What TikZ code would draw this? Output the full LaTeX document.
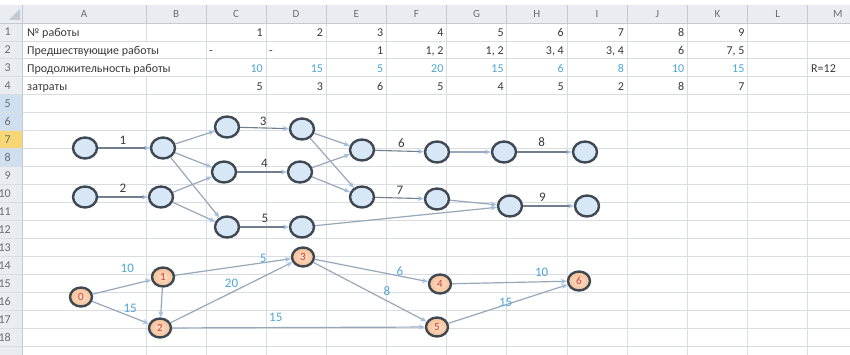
\documentclass[tikz,border=0pt]{standalone}
\usepackage{fontspec}
\setmainfont{Carlito}
\usetikzlibrary{shapes.geometric,arrows.meta}

\definecolor{gridgray}{HTML}{DADDE0}
\definecolor{hdrgray}{HTML}{E9ECF0}
\definecolor{hdrline}{HTML}{C3C9D0}
\definecolor{hdrtext}{HTML}{6A6E73}
\definecolor{celltext}{HTML}{3A3A3A}
\definecolor{durblue}{HTML}{4FA6D4}
\definecolor{vfill}{HTML}{D8E7F5}
\definecolor{vdraw}{HTML}{3E4953}
\definecolor{efill}{HTML}{F7C6A3}
\definecolor{enum}{HTML}{D8362E}
\definecolor{edgegray}{HTML}{97A8BA}
\definecolor{tipblue}{HTML}{A3BFE3}
\definecolor{selblue}{HTML}{CFDFF0}
\definecolor{selyellow}{HTML}{F6D675}

\begin{document}
\begin{tikzpicture}[x=1pt, y=-1pt,
    vertex/.style={ellipse, draw=vdraw, line width=2.4pt, fill=vfill, minimum width=24pt, minimum height=21pt, inner sep=0pt},
    event/.style={ellipse, draw=vdraw, line width=2.4pt, inner color=efill!55!white, outer color=efill!90!orange, minimum width=22pt, minimum height=19pt, inner sep=0pt, text=enum, font=\fontsize{11}{11}\selectfont},
    work/.style={draw=edgegray!75!black, line width=1.1pt, -{Stealth[length=6pt,width=5pt,color=tipblue]}},
    link/.style={draw=edgegray, line width=1.2pt, -{Stealth[length=6pt,width=5pt,color=tipblue]}},
    wlbl/.style={font=\fontsize{13}{13}\selectfont, text=celltext, inner sep=0pt},
    dlbl/.style={wlbl, text=durblue},
    cell/.style={font=\fontsize{12}{12}\selectfont, text=celltext, inner sep=0pt, anchor=base east},
    txtcell/.style={cell, anchor=base west},
    hdr/.style={font=\fontsize{11}{11}\selectfont, text=hdrtext, inner sep=0pt},
    grid/.style={draw=gridgray, line width=0.8pt}
  ]
  \useasboundingbox (0,0) rectangle (850,355);
  \fill[white] (0,0) rectangle (850,355);

  % sheet headers
  \fill[hdrgray] (0,5) rectangle (850,23);
  \fill[hdrgray] (0,5) rectangle (22,355);
  \fill[selblue] (0,94.8) rectangle (22,130.7);
  \fill[selyellow] (0,130.7) rectangle (22,148.65);
  \fill[selblue] (0,148.65) rectangle (22,166.6);
  \fill[hdrline] (9,20) -- (20,20) -- (20,9) -- cycle;

  % grid
  \foreach \k in {0,...,18}
    \draw[grid] (0,{23+\k*17.95}) -- (850,{23+\k*17.95});
  \foreach \x in {206,266,326.2,386.4,446.6,506.8,567,627.2,687.4,747.6,807.8}
    \draw[grid] (\x,23) -- (\x,355);
  \draw[grid] (146,23) -- (146,41); \draw[grid] (146,77) -- (146,355);
  \foreach \x in {22,146,206,266,326.2,386.4,446.6,506.8,567,627.2,687.4,747.6,807.8}
    \draw[hdrline, line width=0.8pt] (\x,5) -- (\x,23);
  \draw[hdrline, line width=0.8pt] (0,23) -- (850,23);
  \draw[hdrline, line width=0.8pt] (22,23) -- (22,355);

  % column letters and row numbers
  \foreach \c/\x in {A/84,B/176,C/236,D/296,E/356.3,F/416.5,G/476.7,H/536.9,I/597.1,J/657.3,K/717.5,L/777.7,M/837.9}
    \node[hdr] (col\c) at (\x,14) {\c};
  \foreach \r in {1,...,18}
    \node[hdr, font=\fontsize{12}{12}\selectfont, anchor=base east] (row\r) at (11,{23+(\r-0.5)*17.95+4}) {\r};

  % table
  \node[txtcell] (t1) at (27,36.3) {№ работы};
  \node[txtcell] (t2) at (27,54.2) {Предшествующие работы};
  \node[txtcell] (t3) at (27,72.2) {Продолжительность работы};
  \node[txtcell] (t4) at (27,90.1) {затраты};
  \foreach \v [count=\i] in {1,2,3,4,5,6,7,8,9}
    \node[cell] (num\i) at ({263+(\i-1)*60.2},36.3) {\v};
  \node[txtcell] (pre1) at (209,54.2) {-};
  \node[txtcell] (pre2) at (269,54.2) {-};
  \foreach \v [count=\i from 3] in {1,{1, 2},{1, 2},{3, 4},{3, 4},6,{7, 5}}
    \node[cell] (pre\i) at ({263+(\i-1)*60.2},54.2) {\v};
  \foreach \v [count=\i] in {10,15,5,20,15,6,8,10,15}
    \node[cell, text=durblue] (dur\i) at ({263+(\i-1)*60.2},72.2) {\v};
  \node[txtcell] (res) at (811,72.2) {R=12};
  \foreach \v [count=\i] in {5,3,6,5,4,5,2,8,7}
    \node[cell] (cost\i) at ({263+(\i-1)*60.2},90.1) {\v};

  % works graph
  \node[vertex] (w1s) at (85,148) {};
  \node[vertex] (w1e) at (163,148) {};
  \node[vertex] (w2s) at (85,197) {};
  \node[vertex] (w2e) at (161,197) {};
  \node[vertex] (w3s) at (227,127) {};
  \node[vertex] (w3e) at (302,129) {};
  \node[vertex] (w4s) at (224,172) {};
  \node[vertex] (w4e) at (300,172) {};
  \node[vertex] (w5s) at (227,227) {};
  \node[vertex] (w5e) at (302,227) {};
  \node[vertex] (w6s) at (362,150) {};
  \node[vertex] (w6e) at (437,152) {};
  \node[vertex] (w7s) at (362,197) {};
  \node[vertex] (w7e) at (437,199) {};
  \node[vertex] (w8s) at (504,152) {};
  \node[vertex] (w8e) at (585,152) {};
  \node[vertex] (w9s) at (510,206) {};
  \node[vertex] (w9e) at (587,206) {};

  \draw[work] (w1s) -- node[wlbl, pos=.48, yshift=8pt] {1} (w1e);
  \draw[work] (w2s) -- node[wlbl, pos=.5, yshift=9pt] {2} (w2e);
  \draw[work] (w3s) -- node[wlbl, pos=.47, yshift=7pt] {3} (w3e);
  \draw[work] (w4s) -- node[wlbl, pos=.55, yshift=9pt] {4} (w4e);
  \draw[work] (w5s) -- node[wlbl, pos=.51, yshift=9pt] {5} (w5e);
  \draw[work] (w6s) -- node[wlbl, pos=.54, yshift=8pt] {6} (w6e);
  \draw[work] (w7s) -- node[wlbl, pos=.51, yshift=8pt] {7} (w7e);
  \draw[work] (w8s) -- node[wlbl, pos=.45, yshift=10pt] {8} (w8e);
  \draw[work] (w9s) -- node[wlbl, pos=.38, yshift=9pt] {9} (w9e);

  \draw[link] (w1e) -- (w3s);
  \draw[link] (w1e) -- (w4s);
  \draw[link] (w1e) -- (w5s);
  \draw[link] (w2e) -- (w4s);
  \draw[link] (w2e) -- (w5s);
  \draw[link] (w3e) -- (w6s);
  \draw[link] (w3e) -- (w7s);
  \draw[link] (w4e) -- (w6s);
  \draw[link] (w4e) -- (w7s);
  \draw[link] (w6e) -- (w8s);
  \draw[link] (w7e) -- (w9s);
  \draw[link] (w5e) -- (w9s);

  % events graph
  \node[event] (ev0) at (81,297) {0};
  \node[event] (ev1) at (163,277) {1};
  \node[event] (ev2) at (160,328) {2};
  \node[event] (ev3) at (303,257) {3};
  \node[event] (ev4) at (440,284) {4};
  \node[event] (ev5) at (437,327) {5};
  \node[event] (ev6) at (579,281) {6};

  \draw[link] (ev0) -- node[dlbl, pos=.59, yshift=17.8pt] {10} (ev1);
  \draw[link] (ev0) -- node[dlbl, pos=.67, yshift=8pt] {15} (ev2);
  \draw[link] (ev1) -- (ev2);
  \draw[link] (ev1) -- node[dlbl, pos=.76, yshift=4pt] {5} (ev3);
  \draw[link] (ev2) -- node[dlbl, pos=.5, yshift=9.5pt] {20} (ev3);
  \draw[link] (ev2) -- node[dlbl, pos=.41, yshift=10.6pt] {15} (ev5);
  \draw[link] (ev3) -- node[dlbl, pos=.75, yshift=4.7pt] {6} (ev4);
  \draw[link] (ev3) -- node[dlbl, pos=.65, yshift=9.4pt] {8} (ev5);
  \draw[link] (ev4) -- node[dlbl, pos=.78, yshift=9.7pt] {10} (ev6);
  \draw[link] (ev5) -- node[dlbl, pos=.48, yshift=2pt] {15} (ev6);
\end{tikzpicture}
\end{document}
